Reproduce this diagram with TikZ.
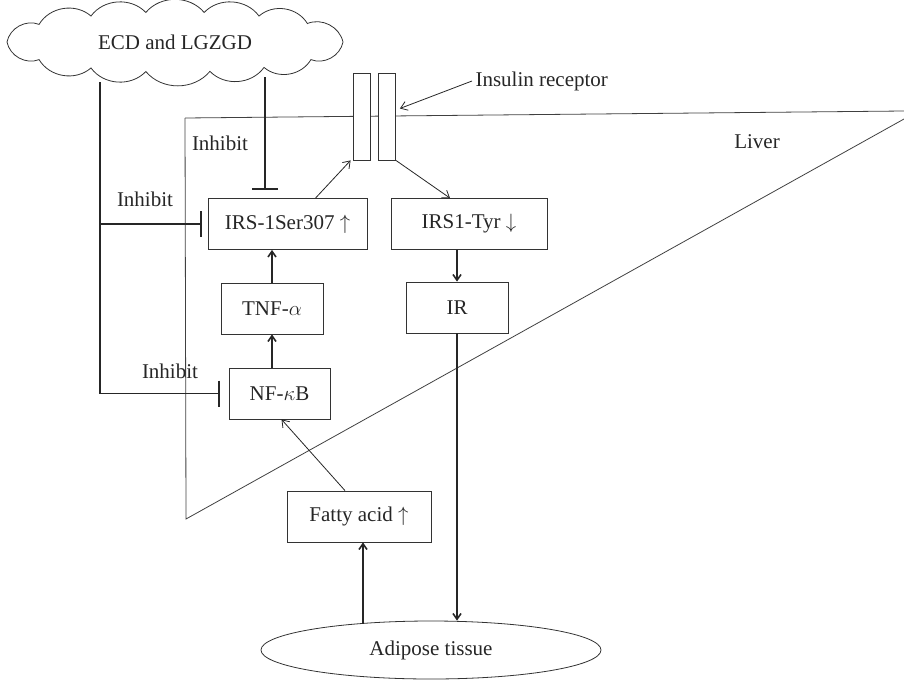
\documentclass[tikz,border=0pt]{standalone}
\usepackage{fontspec}
\setmainfont{Liberation Serif}
\usetikzlibrary{shapes.geometric,arrows.meta}

\begin{document}
\begin{tikzpicture}[x=1pt,y=-1pt,
    every node/.style={font=\fontsize{21}{24}\selectfont,text=black!85},
    box/.style={draw=black!80,line width=0.8pt,inner sep=0pt,minimum height=51pt},
    recbar/.style={draw=black!80,fill=white,line width=0.8pt,inner sep=0pt,minimum width=17pt,minimum height=87pt},
    act/.style={-{Straight Barb[angle=70:7pt]},line width=1.6pt,draw=black!85},
    thinact/.style={-{Straight Barb[angle=70:8pt]},line width=0.8pt,draw=black!85},
    inhib/.style={-{Bar[width=26pt]},line width=1.8pt,draw=black!85},
    liverline/.style={line width=0.8pt,draw=black!75}]
  \useasboundingbox (0,0) rectangle (904,680);

  % liver
  \draw[liverline] (185,118) -- (904,111);
  \draw[liverline] (904,119) -- (186,519) -- (185,118);
  \node (liver) at (757,142) {Liver};

  % cloud outline
  \draw[line width=0.8pt,draw=black!80] (343,42)
    foreach \a in {36,58,78,100,120,144,180,216,240,260,280,300,322,360}
      { to[bend left=50] ({175+168*cos(\a)},{42+30*sin(\a)}) } -- cycle;

  \draw
    (175,42) node (cloud) {ECD and LGZGD}
    (361.5,116.5) node[recbar] (recl) {}
    (387,116.5) node[recbar] (recr) {}
    (472,81) node[anchor=west] (inslab) {Insulin receptor}
    (287.5,224) node[box,minimum width=159pt] (irs) {IRS-1Ser307 $\uparrow$}
    (469,224) node[box,minimum width=156pt] (tyr) {IRS1-Tyr $\downarrow$}
    (272,308.5) node[box,minimum width=102pt] (tnf) {TNF-$\alpha$}
    (457,307.5) node[box,minimum width=102pt] (ir) {IR}
    (279.5,393.5) node[box,minimum width=101pt] (nfkb) {NF-$\kappa$B}
    (359,516.5) node[box,minimum width=144pt] (fatty) {Fatty acid $\uparrow$}
    (431,650) node[ellipse,draw=black!80,line width=0.8pt,inner sep=0pt,
      minimum width=340pt,minimum height=58pt] (adipose) {Adipose tissue};

  \node (inh1) at (220,143) {Inhibit};
  \node (inh2) at (145,199) {Inhibit};
  \node (inh3) at (170,371) {Inhibit};

  \coordinate (lft) at (100,82);
  \coordinate (mid) at (265,77);

  \begin{scope}
    \draw[inhib] (mid) -- (mid |- 0,190);
    \draw[line width=1.8pt,draw=black!85] (lft) -- (lft |- nfkb.west);
    \draw[inhib] (lft |- irs.west) -- ([xshift=-6pt]irs.west);
    \draw[inhib] (lft |- nfkb.west) -- ([xshift=-9pt]nfkb.west);

    \draw[thinact] (inslab.west) -- ([xshift=4pt,yshift=8pt]recr.east);
    \draw[thinact] ([xshift=28pt]irs.north) -- ([xshift=-2pt]recl.south west);
    \draw[thinact] (recr.south east) -- ([xshift=-19pt]tyr.north);
    \draw[act] (tyr.south -| ir.north) -- (ir.north);
    \draw[act] (ir.south) -- (ir.south |- adipose.north);
    \draw[act] (tnf.north) -- (tnf.north |- irs.south);
    \draw[act] (tnf.south |- nfkb.north) -- (tnf.south);
    \draw[thinact] ([xshift=-14pt]fatty.north) -- ([xshift=2pt]nfkb.south);
    \draw[act] ([xshift=4pt,yshift=-3pt]adipose.north -| fatty.south) -- ([xshift=4pt]fatty.south);
  \end{scope}
\end{tikzpicture}
\end{document}
